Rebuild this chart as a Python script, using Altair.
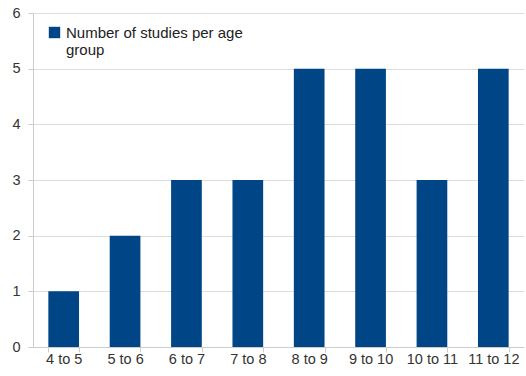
import altair as alt
import pandas as pd

categories = ["4 to 5", "5 to 6", "6 to 7", "7 to 8", "8 to 9", "9 to 10", "10 to 11", "11 to 12"]
values = [1, 2, 3, 3, 5, 5, 3, 5]
series = "Number of studies per age group"

df = pd.DataFrame({"age": categories, "studies": values, "series": [series] * len(categories)})

chart = alt.Chart(df).mark_bar(color="#004586").encode(
    x=alt.X("age:N", sort=categories, title=None,
            scale=alt.Scale(paddingInner=0.5, paddingOuter=0.25),
            axis=alt.Axis(labelAngle=0, labelFontSize=14.5, labelColor="#333333",
                          labelFont="Liberation Sans", tickBand="extent", tickSize=5,
                          tickColor="#cccccc", domainColor="#cccccc", labelPadding=0)),
    y=alt.Y("studies:Q", title=None, scale=alt.Scale(domain=[0, 6]),
            axis=alt.Axis(values=[0, 1, 2, 3, 4, 5, 6], labelFontSize=14.5, labelColor="#333333",
                          labelFont="Liberation Sans", gridColor="#dddddd", domainColor="#cccccc",
                          tickColor="#cccccc", tickSize=5, labelPadding=8)),
    fill=alt.Fill("series:N", scale=alt.Scale(range=["#004586"]),
                  legend=alt.Legend(title=None, orient="none", legendX=14, legendY=12,
                                    symbolType="square", symbolSize=130, symbolStrokeWidth=0,
                                    labelFontSize=15, labelFont="Liberation Sans", labelColor="#222222",
                                    labelLimit=300,
                                    labelExpr="['Number of studies per age', 'group']")),
).properties(
    width=491, height=334,
    autosize=alt.AutoSizeParams(type="none"),
    padding={"left": 33, "top": 13, "right": 2, "bottom": 29},
).configure_view(stroke=None)

chart.save("out.html", embed_options={"renderer": "svg", "actions": False})
